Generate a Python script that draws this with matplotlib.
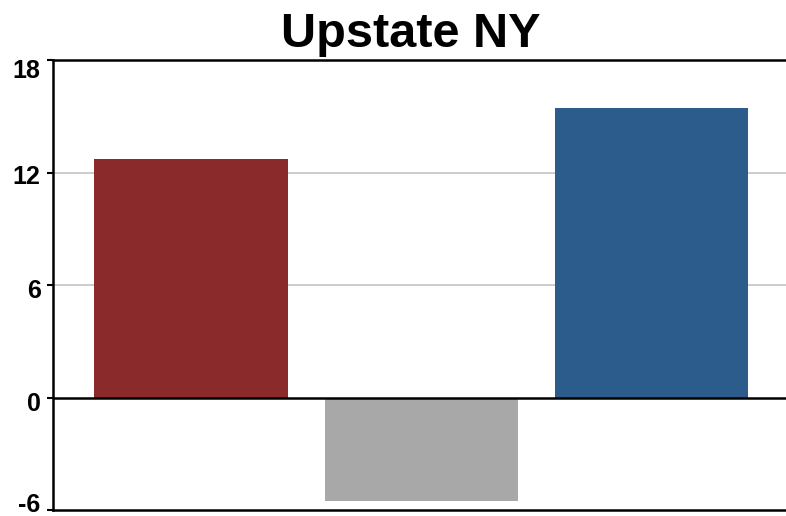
import matplotlib
matplotlib.use('Agg')
import matplotlib.pyplot as plt
from matplotlib.transforms import ScaledTranslation

# data
categories = ['Dem', 'Other', 'Rep']
values = [12.7, -5.5, 15.45]
bar_colors = ['#8B2A2B', '#A8A8A8', '#2B5C8C']
yticks = [-6, 0, 6, 12, 18]

plt.rcParams['font.family'] = ['Liberation Sans', 'DejaVu Sans']

fig = plt.figure(figsize=(7.86, 5.16), dpi=100)
ax = fig.add_axes([53 / 786, 6 / 516, 733 / 786, 450 / 516])

x = range(len(categories))
ax.bar(x, values, width=0.84, color=bar_colors, zorder=2)

ax.set_xlim(-0.6, 2.585)
ax.set_ylim(-6, 18)
ax.set_yticks(yticks)
ax.set_yticklabels([str(t) for t in yticks], fontsize=18, fontweight='bold')
ax.set_xticks([])
ax.tick_params(axis='y', length=4, width=1.5, pad=5)

# the reference nudges the labels a little off their ticks
nudge_px = [7, -4, -4, -2, -9]
for lab, dy in zip(ax.get_yticklabels(), nudge_px):
    lab.set_transform(lab.get_transform() + ScaledTranslation(0, dy / 100, fig.dpi_scale_trans))

for t in [6, 12]:
    ax.axhline(t, color='#c4c4c4', lw=1.2, zorder=1)
ax.axhline(0, color='black', lw=1.8, zorder=3)

for s in ['left', 'bottom', 'top']:
    ax.spines[s].set_linewidth(1.8)
    ax.spines[s].set_color('black')
ax.spines['right'].set_visible(False)

fig.text(411 / 786, 1 - 47 / 516, 'Upstate NY', ha='center', va='baseline',
         fontsize=35, fontweight='bold')

fig.savefig('out.png', dpi=100)
